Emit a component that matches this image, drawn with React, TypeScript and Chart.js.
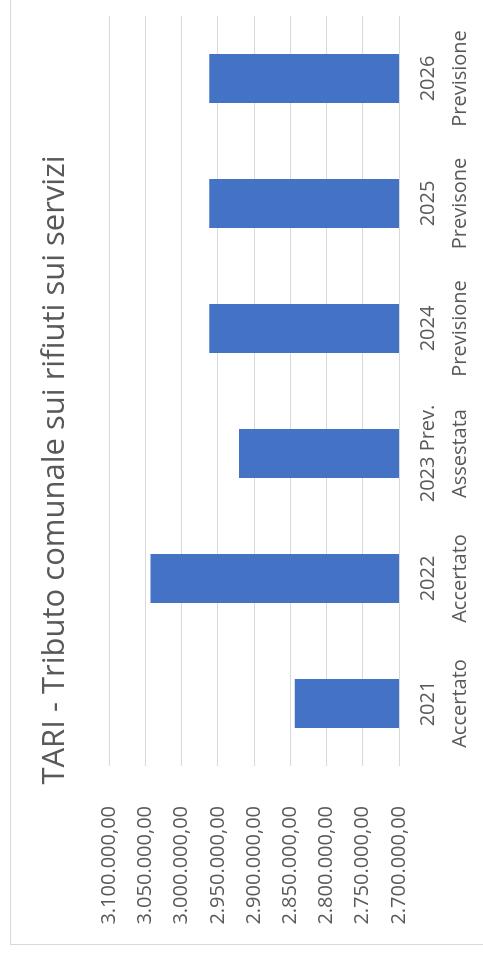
import React, { useEffect, useRef } from "react";
import { Chart, registerables } from "chart.js";

Chart.register(...registerables);

const categories: string[][] = [
  ["2021", "Accertato"],
  ["2022", "Accertato"],
  ["2023 Prev.", "Assestata"],
  ["2024", "Previsione"],
  ["2025", "Previsone"],
  ["2026", "Previsione"],
];
const values: number[] = [2844000, 3043000, 2921000, 2962000, 2962000, 2962000];
const axisMin = 2700000;
const axisMax = 3100000;
const axisStep = 50000;
const chartTitle = "TARI - Tributo comunale sui rifiuti sui servizi";

const W = 954;
const H = 490;
const TEXT = "#595959";
const FONT = "'Open Sans', 'Noto Sans', sans-serif";

function fmtIt(v: number): string {
  const neg = v < 0;
  const n = Math.abs(v);
  const intPart = Math.floor(n).toString().replace(/\B(?=(\d{3})+(?!\d))/g, ".");
  const dec = Math.round((n - Math.floor(n)) * 100).toString().padStart(2, "0");
  return (neg ? "-" : "") + intPart + "," + dec;
}

export default function App() {
  const ref = useRef<HTMLCanvasElement>(null);
  useEffect(() => {
    if (!ref.current) return;
    Chart.defaults.font.family = FONT;
    const chart = new Chart(ref.current, {
      type: "bar",
      data: {
        labels: categories,
        datasets: [
          {
            data: values,
            backgroundColor: "#4472C4",
            borderWidth: 0,
            barPercentage: 0.392,
            categoryPercentage: 1,
          },
        ],
      },
      options: {
        responsive: false,
        animation: false,
        devicePixelRatio: 1,
        layout: { padding: { left: 20, right: 26, top: 0, bottom: 0 } },
        plugins: {
          legend: { display: false },
          tooltip: { enabled: false },
          title: {
            display: true,
            text: chartTitle,
            color: TEXT,
            font: { family: FONT, size: 31, weight: "normal" },
            padding: { top: 26, bottom: 35 },
          },
        },
        scales: {
          x: {
            grid: { display: false },
            border: { display: false },
            ticks: {
              color: TEXT,
              font: { family: FONT, size: 20, lineHeight: 1.6 },
              padding: 5,
              maxRotation: 0,
              minRotation: 0,
              autoSkip: false,
            },
            afterFit: (s: any) => {
              s.height = 102;
            },
          },
          y: {
            min: axisMin,
            max: axisMax,
            ticks: {
              stepSize: axisStep,
              color: TEXT,
              font: { family: FONT, size: 20 },
              padding: 40,
              callback: (v: any) => fmtIt(Number(v)),
            },
            grid: { color: "#d9d9d9", drawTicks: false, lineWidth: 1 },
            border: { display: false },
            afterFit: (s: any) => {
              s.width = 158;
            },
          },
        },
      },
    });
    return () => chart.destroy();
  }, []);

  return (
    <div
      style={{
        position: "fixed",
        left: 0,
        top: 0,
        width: 483,
        height: 954,
        overflow: "hidden",
        background: "#fff",
      }}
    >
      <div
        style={{
          position: "absolute",
          left: 0,
          top: 0,
          width: W,
          height: H,
          transformOrigin: "0 0",
          transform: "translate(10px, 945px) rotate(-90deg)",
          borderLeft: "1px solid #d9d9d9",
          borderTop: "1px solid #d9d9d9",
          boxSizing: "border-box",
        }}
      >
        <canvas
          ref={ref}
          width={W}
          height={H}
          style={{ position: "absolute", left: 0, top: 0, width: W, height: H }}
        />
      </div>
    </div>
  );
}
